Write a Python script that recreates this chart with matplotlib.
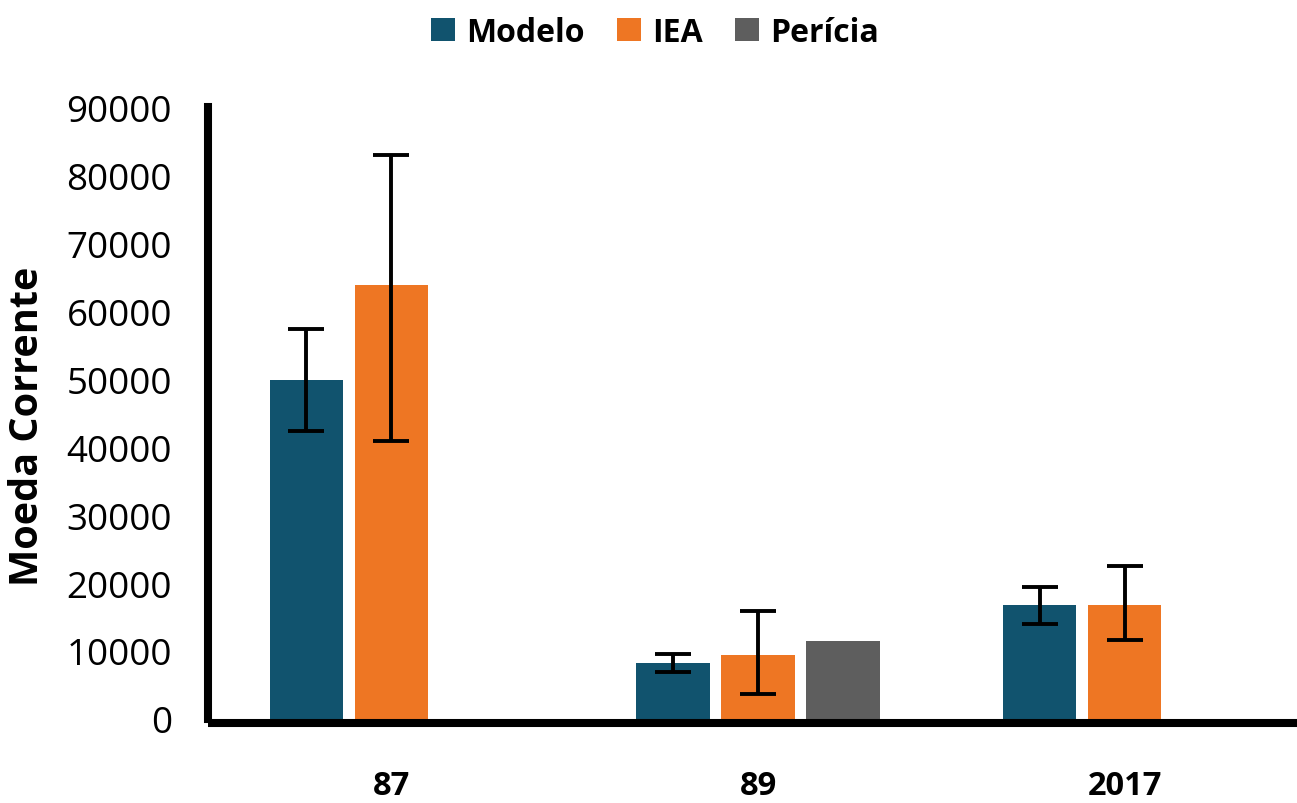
import matplotlib
matplotlib.use("Agg")
import matplotlib.pyplot as plt
import numpy as np
from matplotlib.patches import Patch

plt.rcParams['font.family'] = ['Open Sans', 'DejaVu Sans']

categories = ["87", "89", "2017"]
series = ["Modelo", "IEA", "Perícia"]
colors = ["#11536E", "#EE7623", "#5E5E5E"]

modelo = [49800, 8300, 16800]
modelo_err_low = [7500, 1400, 2800]
modelo_err_high = [7500, 1200, 2600]

iea = [63800, 9400, 16800]
iea_err_low = [22900, 5700, 5200]
iea_err_high = [19200, 6500, 5700]

pericia = [np.nan, 11400, np.nan]

yticks = [0, 10000, 20000, 30000, 40000, 50000, 60000, 70000, 80000, 90000]

fig = plt.figure(figsize=(12.97, 8.04), dpi=100)
ax = fig.add_axes([0.1604, 0.1045, 0.8396, 0.761])

for s in ["top", "right"]:
    ax.spines[s].set_visible(False)
for s in ["left", "bottom"]:
    ax.spines[s].set_linewidth(5.8)
    ax.spines[s].set_color("black")
ax.spines["bottom"].set_position(("outward", 2.9))
ax.spines["bottom"].set_capstyle("butt")

x = np.arange(len(categories))
w = 0.2
off = 0.232

err_kw = dict(ecolor="black", elinewidth=2.8, capsize=13, capthick=2.8)
ax.bar(x - off, modelo, w, color=colors[0],
       yerr=[modelo_err_low, modelo_err_high], error_kw=err_kw)
ax.bar(x, iea, w, color=colors[1],
       yerr=[iea_err_low, iea_err_high], error_kw=err_kw)
ax.bar(x + off, pericia, w, color=colors[2])

ax.set_xlim(-0.5, 2.47)
ax.set_ylim(0, 90000)
ax.set_yticks(yticks)
ax.set_yticklabels([str(t) for t in yticks], fontsize=26.5)
ax.set_xticks(x)
ax.set_xticklabels(categories, fontsize=23.5, fontweight="bold")
ax.tick_params(axis="y", length=0, pad=26)
ax.tick_params(axis="x", length=0, pad=33)

ax.set_ylabel("Moeda Corrente", fontsize=28.5, fontweight="bold")
ax.yaxis.set_label_coords(-0.148, 0.48)

handles = [Patch(facecolor=c, edgecolor="none") for c in colors]
fig.legend(handles, series, loc="upper center", bbox_to_anchor=(0.505, 1.015),
           ncol=3, frameon=False, prop=dict(size=23, weight="bold"),
           handlelength=0.75, handleheight=0.75, handletextpad=0.35,
           columnspacing=1.0)

fig.savefig("out.png", dpi=100)
